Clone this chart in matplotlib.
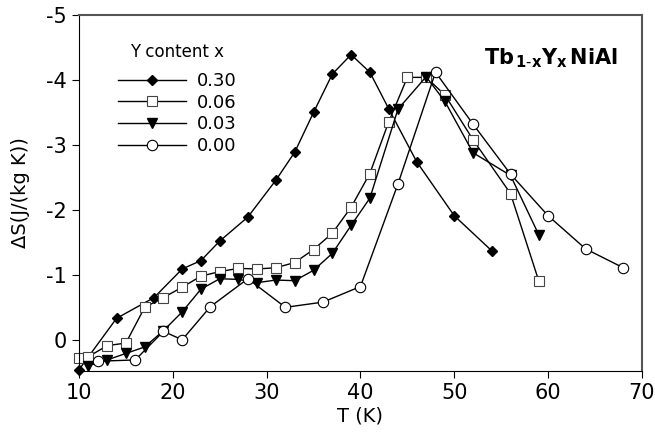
import numpy as np
import matplotlib.pyplot as plt

plt.rcParams['axes.unicode_minus'] = False

# Y content x = 0.30
t30 = [10, 14, 18, 21, 23, 25, 28, 31, 33, 35, 37, 39, 41, 43, 46, 50, 54]
s30 = [0.46, -0.33, -0.65, -1.09, -1.22, -1.52, -1.89, -2.46, -2.89, -3.50, -4.09, -4.39, -4.12, -3.56, -2.74, -1.91, -1.37]

# x = 0.06
t06 = [10, 11, 13, 15, 17, 19, 21, 23, 25, 27, 29, 31, 33, 35, 37, 39, 41, 43, 45, 47, 49, 52, 56, 59]
s06 = [0.28, 0.26, 0.09, 0.05, -0.50, -0.65, -0.81, -0.98, -1.05, -1.10, -1.09, -1.11, -1.19, -1.39, -1.64, -2.04, -2.56, -3.35, -4.04, -4.04, -3.77, -3.08, -2.25, -0.91]

# x = 0.03
t03 = [11, 13, 15, 17, 19, 21, 23, 25, 27, 29, 31, 33, 35, 37, 39, 41, 44, 47, 49, 52, 56, 59]
s03 = [0.40, 0.31, 0.21, 0.11, -0.14, -0.43, -0.78, -0.94, -0.93, -0.88, -0.92, -0.91, -1.07, -1.33, -1.76, -2.18, -3.55, -4.05, -3.67, -2.88, -2.53, -1.62]

# x = 0.00
t00 = [12, 16, 19, 21, 24, 28, 32, 36, 40, 44, 48, 52, 56, 60, 64, 68]
s00 = [0.33, 0.31, -0.13, 0.00, -0.51, -0.94, -0.50, -0.58, -0.82, -2.40, -4.12, -3.32, -2.55, -1.91, -1.40, -1.11]

fig = plt.figure(figsize=(6.55, 4.34), dpi=100)
ax = fig.add_axes([0.1206, 0.1452, 0.8594, 0.8202])

kw = dict(color='black', linewidth=1.0, clip_on=False)
ax.plot(t30, s30, marker='D', markersize=5, markerfacecolor='black', label='0.30', **kw)
ax.plot(t06, s06, marker='s', markersize=6.5, markerfacecolor='white', markeredgecolor='#444444',
        markeredgewidth=0.8, label='0.06', **kw)
ax.plot(t03, s03, marker='v', markersize=7.5, markerfacecolor='black', label='0.03', **kw)
ax.plot(t00, s00, marker='o', markersize=7.5, markerfacecolor='white', markeredgewidth=0.8,
        label='0.00', **kw)

ax.set_xlim(10, 70)
ax.set_ylim(0.48, -5)
ax.set_xticks([10, 20, 30, 40, 50, 60, 70])
ax.set_yticks([0, -1, -2, -3, -4, -5])
ax.tick_params(labelsize=15, direction='out', length=5, top=False, right=False)
ax.set_xlabel('T (K)', fontsize=14, labelpad=3)
ax.set_ylabel('ΔS(J/(kg K))', fontsize=14, labelpad=12)
for side in ['top', 'right']:
    ax.spines[side].set_color('#555555')
    ax.spines[side].set_linewidth(1.5)

# legend title drawn separately so the gap below it matches
ax.text(0.175, 0.896, 'Y content x', transform=ax.transAxes, ha='center', va='center',
        fontsize=12)
leg = ax.legend(loc='upper left', bbox_to_anchor=(0.04, 0.885),
                frameon=False, fontsize=13, handlelength=3.8,
                labelspacing=0.2, handletextpad=0.6)

ax.text(0.958, 0.88, r'$\mathbf{Tb}_{\,\mathbf{1\text{-}x}}\mathbf{Y}_{\mathbf{x}}\,\mathbf{NiAl}$',
        transform=ax.transAxes, ha='right', va='center', fontsize=15)

plt.savefig('out.png', dpi=100)
